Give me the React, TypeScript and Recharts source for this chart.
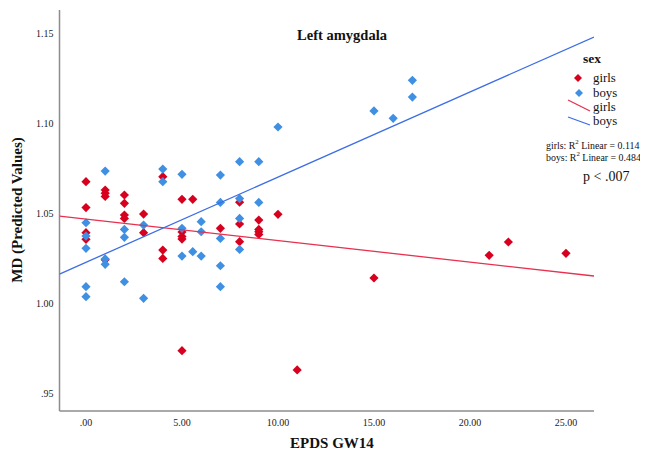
import React from "react";
import { ScatterChart, Scatter, XAxis, YAxis } from "recharts";

const girlsX = [0, 0, 0, 0, 1, 1, 1, 1, 2, 2, 2, 2, 3, 3, 4, 4, 4, 5, 5, 5, 5, 5, 5.56, 7, 8, 8, 8, 9, 9, 9, 9, 10, 11, 15, 21, 22, 25];
const girlsY = [1.0674, 1.053, 1.0391, 1.0354, 1.0628, 1.061, 1.0592, 1.024, 1.06, 1.0554, 1.0489, 1.047, 1.0494, 1.0391, 1.0702, 1.0294, 1.0248, 1.0576, 1.0395, 1.037, 1.0355, 0.9735, 1.0576, 1.0415, 1.056, 1.0439, 1.0341, 1.0461, 1.0409, 1.0396, 1.0381, 1.0493, 0.9628, 1.0139, 1.0265, 1.0339, 1.0276];

const boysX = [0, 0, 0, 0, 0, 1, 1, 1, 2, 2, 2, 3, 3, 4, 4, 5, 5, 5, 5.56, 6, 6, 6, 7, 7, 7, 7, 7, 8, 8, 8, 8, 9, 9, 10, 15, 16, 17, 17];
const boysY = [1.0446, 1.0372, 1.0304, 1.0091, 1.0035, 1.0733, 1.0245, 1.0215, 1.0409, 1.0365, 1.0118, 1.0433, 1.0026, 1.0744, 1.0674, 1.0715, 1.0415, 1.0261, 1.0285, 1.0452, 1.0396, 1.0261, 1.0711, 1.0559, 1.0359, 1.0207, 1.0091, 1.0785, 1.058, 1.047, 1.0298, 1.0785, 1.0559, 1.0978, 1.1067, 1.1026, 1.1237, 1.1144];

const fitX = [-1.38, 26.46];
const girlsFitY = [1.0483, 1.015];
const boysFitY = [1.0161, 1.1478];

const xTicks = [0, 5, 10, 15, 20, 25];
const yTicks = [0.95, 1.0, 1.05, 1.1, 1.15];

const RED = "#d7001f";
const BLUE = "#3f8fe2";
const RED_LINE = "#e8304f";
const BLUE_LINE = "#3d6ee6";
const FONT = "'Liberation Serif', 'Times New Roman', serif";

const zip = (xs: number[], ys: number[]) => xs.map((x, i) => ({ x, y: ys[i] }));
const girlsData = zip(girlsX, girlsY);
const boysData = zip(boysX, boysY);
const girlsFit = zip(fitX, girlsFitY);
const boysFit = zip(fitX, boysFitY);

const diamond = (fill: string) => (props: any) => {
  const { cx, cy } = props;
  if (cx == null || cy == null) return <g />;
  const r = 4.6;
  return (
    <polygon
      points={`${cx},${cy - r} ${cx + r},${cy} ${cx},${cy + r} ${cx - r},${cy}`}
      fill={fill}
    />
  );
};

const noShape = () => <g />;

const fmtX = (v: number) => (v === 0 ? ".00" : v.toFixed(2));
const fmtY = (v: number) => {
  const s = v.toFixed(2);
  return s.startsWith("0") ? s.slice(1) : s;
};

export default function App() {
  const W = 640;
  const H = 446;
  return (
    <div style={{ position: "relative", width: W, height: H }}>
      <ScatterChart width={W} height={H} margin={{ top: 2, right: 54, bottom: 0, left: 0 }}>
        <XAxis
          type="number"
          dataKey="x"
          domain={[-1.38, 26.46]}
          ticks={xTicks}
          tickFormatter={fmtX}
          allowDataOverflow
          height={43}
          tickLine={false}
          tickSize={0}
          tickMargin={8}
          axisLine={{ stroke: "#8c8c8c", strokeWidth: 1.5 }}
          tick={{ fill: "#222", fontSize: 10, fontFamily: FONT }}
        />
        <YAxis
          type="number"
          dataKey="y"
          domain={[0.94, 1.1628]}
          ticks={yTicks}
          tickFormatter={fmtY}
          allowDataOverflow
          width={51.5}
          tickLine={false}
          tickSize={0}
          tickMargin={6}
          axisLine={{ stroke: "#8c8c8c", strokeWidth: 1.5 }}
          tick={{ fill: "#222", fontSize: 10, fontFamily: FONT }}
        />
        <Scatter data={girlsData} shape={diamond(RED)} isAnimationActive={false} />
        <Scatter data={boysData} shape={diamond(BLUE)} isAnimationActive={false} />
        <Scatter
          data={girlsFit}
          shape={noShape}
          line={{ stroke: RED_LINE, strokeWidth: 1.3 }}
          isAnimationActive={false}
        />
        <Scatter
          data={boysFit}
          shape={noShape}
          line={{ stroke: BLUE_LINE, strokeWidth: 1.3 }}
          isAnimationActive={false}
        />
      </ScatterChart>
      <svg
        width={W}
        height={H}
        style={{ position: "absolute", left: 0, top: 0, pointerEvents: "none" }}
        fontFamily={FONT}
      >
        <text x={334} y={27} textAnchor="middle" dominantBaseline="central" fontWeight="bold" fontSize={14.5} fill="#111">
          Left amygdala
        </text>
        <text
          x={9}
          y={202}
          transform="rotate(-90 9 202)"
          textAnchor="middle"
          dominantBaseline="central"
          fontWeight="bold"
          fontSize={15}
          fill="#111"
        >
          MD (Predicted Values)
        </text>
        <text x={324} y={435} textAnchor="middle" dominantBaseline="central" fontWeight="bold" fontSize={15} fill="#111">
          EPDS GW14
        </text>
        <text x={575} y={50} dominantBaseline="central" fontWeight="bold" fontSize={13.5} fill="#111">
          sex
        </text>
        <polygon points="570,66 574,70 570,74 566,70" fill={RED} />
        <text x={585} y={70} dominantBaseline="central" fontSize={12.8} fill="#111">
          girls
        </text>
        <polygon points="571,81 575,85 571,89 567,85" fill={BLUE} />
        <text x={585} y={85} dominantBaseline="central" fontSize={12.8} fill="#111">
          boys
        </text>
        <line x1={560} y1={92} x2={582} y2={103} stroke={RED_LINE} strokeWidth={1.3} />
        <text x={585} y={99} dominantBaseline="central" fontSize={12.8} fill="#111">
          girls
        </text>
        <line x1={560} y1={109} x2={582} y2={117} stroke={BLUE_LINE} strokeWidth={1.3} />
        <text x={585} y={113} dominantBaseline="central" fontSize={12.8} fill="#111">
          boys
        </text>
        <text x={538} y={137} dominantBaseline="central" fontSize={9.9} fill="#111">
          girls: R<tspan dy={-4} fontSize={6.8}>2</tspan>
          <tspan dy={4}>{" Linear = 0.114"}</tspan>
        </text>
        <text x={538} y={149} dominantBaseline="central" fontSize={9.9} fill="#111">
          boys: R<tspan dy={-4} fontSize={6.8}>2</tspan>
          <tspan dy={4}>{" Linear = 0.484"}</tspan>
        </text>
        <text x={575} y={168} dominantBaseline="central" fontSize={14} fill="#111">
          p &lt; .007
        </text>
      </svg>
    </div>
  );
}
